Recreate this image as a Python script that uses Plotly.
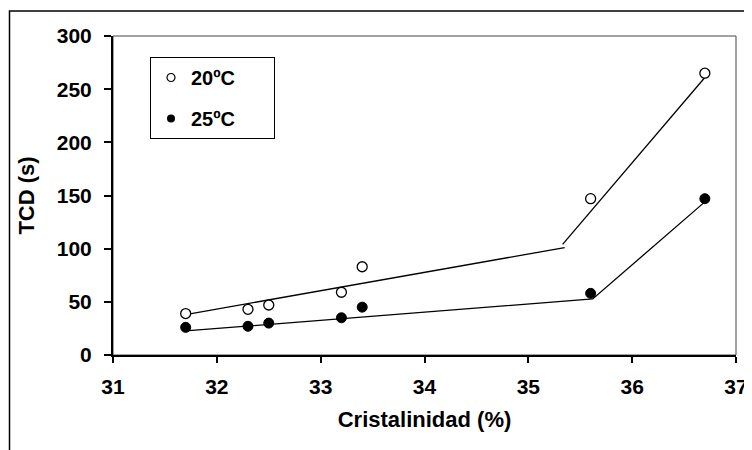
import plotly.graph_objects as go

# Data
cryst = [31.7, 32.3, 32.5, 33.2, 33.4, 35.6, 36.7]
tcd_20 = [39, 43, 47, 59, 83, 147, 265]
tcd_25 = [26, 27, 30, 35, 45, 58, 147]

# Trend lines (two-segment fits)
fit20_x = [31.7, 35.35, None, 35.33, 36.7]
fit20_y = [38, 101, None, 104, 261]
fit25_x = [31.7, 35.62, 36.7]
fit25_y = [22.6, 52.7, 144]

x_ticks = [31, 32, 33, 34, 35, 36, 37]
y_ticks = [0, 50, 100, 150, 200, 250, 300]
legend_names = ["20ºC", "25ºC"]

FONT = "Liberation Sans, Arial, sans-serif"
PAD = "\u00a0" * 6

# the page body adds an 8px offset; the figure is sized to fill the window
W, H = 744, 442
ML, MR, MT, MB = 105, 16, 28, 95
PW, PH = W - ML - MR, H - MT - MB

fig = go.Figure()
fig.add_trace(go.Scatter(x=fit20_x, y=fit20_y, mode="lines",
                         line=dict(color="black", width=1.3), showlegend=False, hoverinfo="skip"))
fig.add_trace(go.Scatter(x=fit25_x, y=fit25_y, mode="lines",
                         line=dict(color="black", width=1.3), showlegend=False, hoverinfo="skip"))
fig.add_trace(go.Scatter(x=cryst, y=tcd_20, mode="markers", name=legend_names[0],
                         marker=dict(symbol="circle", size=10, color="white",
                                     line=dict(color="black", width=1.3)),
                         showlegend=False))
fig.add_trace(go.Scatter(x=cryst, y=tcd_25, mode="markers", name=legend_names[1],
                         marker=dict(symbol="circle", size=10, color="black",
                                     line=dict(color="black", width=1)),
                         showlegend=False))
# legend entries (smaller markers as in the original)
fig.add_trace(go.Scatter(x=[None], y=[None], mode="markers", name=legend_names[0] + PAD, legendgroup="a",
                         marker=dict(symbol="circle", size=8, color="white",
                                     line=dict(color="black", width=1.2))))
fig.add_trace(go.Scatter(x=[None], y=[None], mode="markers", name=legend_names[1] + PAD, legendgroup="b",
                         marker=dict(symbol="circle", size=8, color="black")))

fig.update_layout(
    width=W, height=H,
    margin=dict(l=ML, r=MR, t=MT, b=MB, autoexpand=False),
    paper_bgcolor="white", plot_bgcolor="white",
    font=dict(family=FONT, size=21, color="black"),
    showlegend=True,
    legend=dict(x=(150 - 113) / PW, y=(355 - 57) / PH, xanchor="left", yanchor="top",
                bordercolor="black", borderwidth=1, bgcolor="white",
                font=dict(family=FONT, size=20, color="black", weight="bold"),
                tracegroupgap=12, itemwidth=30),
    xaxis=dict(range=[31, 37], tickvals=x_ticks, ticks="outside", ticklen=6, tickwidth=2,
               tickcolor="black", showline=True, linecolor="black", linewidth=2,
               showgrid=False, zeroline=False, automargin=False, ticklabelstandoff=6,
               tickfont=dict(family=FONT, size=21, weight="bold"),
               title=dict(text="<b>Cristalinidad (%)</b>", font=dict(family=FONT, size=22), standoff=14)),
    yaxis=dict(range=[0, 300], tickvals=y_ticks, ticks="outside", ticklen=7, tickwidth=2,
               tickcolor="black", showline=True, linecolor="black", linewidth=2,
               showgrid=False, zeroline=False, automargin=False, ticklabelstandoff=8,
               tickfont=dict(family=FONT, size=21, weight="bold"),
               title=dict(text="<b>TCD (s)</b>", font=dict(family=FONT, size=22), standoff=16)),
    shapes=[
        dict(type="rect", xref="x domain", yref="y domain", x0=0, x1=1, y0=0, y1=1,
             line=dict(color="#444", width=1), layer="below"),
        dict(type="rect", xref="paper", yref="paper",
             x0=(1.5 - ML) / PW, x1=(W + 10 - ML) / PW,
             y0=-(MB + 20) / PH, y1=1 + (MT - 3) / PH,
             line=dict(color="black", width=1.5), layer="below"),
    ],
)

fig.write_html("out.html")
